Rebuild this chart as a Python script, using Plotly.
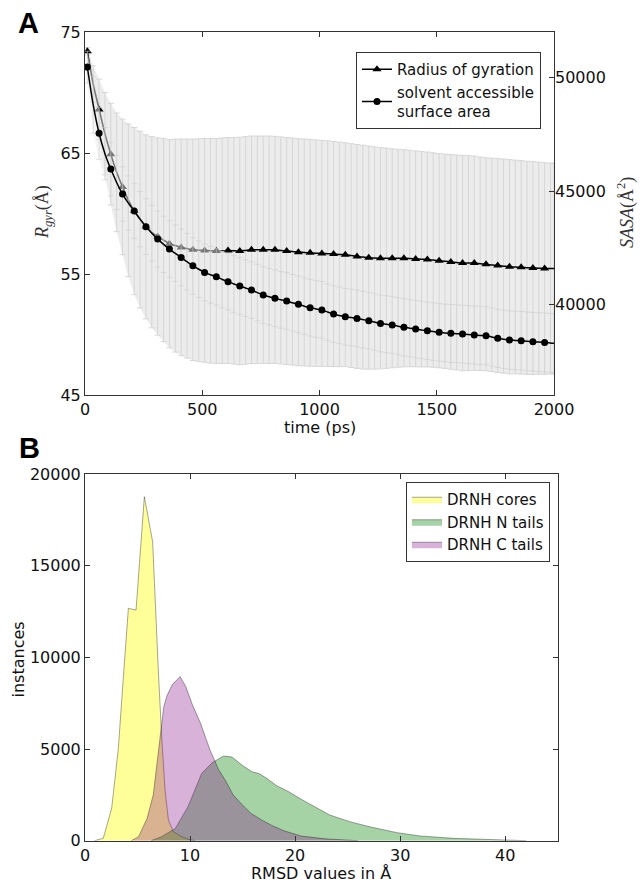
import plotly.graph_objects as go

W, H = 640, 883

# ---------------- Panel A data ----------------
time_ps = [10, 35, 60, 85, 110, 135, 160, 185, 210, 235, 260, 285, 310, 335, 360, 385,
           410, 435, 460, 485, 510, 535, 560, 585, 610, 635, 660, 685, 710, 735, 760, 785,
           810, 835, 860, 885, 910, 935, 960, 985, 1010, 1035, 1060, 1085, 1110, 1135, 1160, 1185,
           1210, 1235, 1260, 1285, 1310, 1335, 1360, 1385, 1410, 1435, 1460, 1485, 1510, 1535, 1560, 1585,
           1610, 1635, 1660, 1685, 1710, 1735, 1760, 1785, 1810, 1835, 1860, 1885, 1910, 1935, 1960, 1985,
           2000]

rg_mean = [73.4, 70.7, 68.6, 66.6, 64.9, 63.4, 62.2, 61.1, 60.2, 59.5, 58.9, 58.45, 58.1, 57.8, 57.5, 57.35,
           57.2, 57.1, 57.0, 56.97, 56.95, 56.92, 56.9, 56.92, 56.95, 56.92, 56.9, 56.95, 57.0, 57.0, 57.0, 57.0,
           57.0, 56.95, 56.9, 56.85, 56.8, 56.78, 56.75, 56.72, 56.7, 56.68, 56.65, 56.62, 56.6, 56.52, 56.45, 56.4,
           56.35, 56.32, 56.3, 56.3, 56.3, 56.3, 56.3, 56.28, 56.25, 56.22, 56.2, 56.15, 56.1, 56.05, 56.0, 55.95,
           55.9, 55.9, 55.9, 55.85, 55.8, 55.75, 55.7, 55.65, 55.6, 55.58, 55.55, 55.52, 55.5, 55.48, 55.45, 55.45,
           55.45]

rg_std = [0.3, 1.5, 2.5, 3.4, 4.2, 4.9, 5.6, 6.3, 6.9, 7.3, 7.6, 7.9, 8.15, 8.4, 8.6, 8.8,
          8.95, 9.05, 9.15, 9.2, 9.25, 9.28, 9.3, 9.32, 9.33, 9.36, 9.4, 9.4, 9.4, 9.4, 9.4, 9.4,
          9.38, 9.38, 9.38, 9.38, 9.38, 9.38, 9.37, 9.36, 9.35, 9.33, 9.3, 9.28, 9.25, 9.25, 9.25, 9.25,
          9.22, 9.18, 9.14, 9.1, 9.05, 9.0, 8.97, 8.94, 8.92, 8.9, 8.88, 8.86, 8.85, 8.85, 8.87, 8.88,
          8.9, 8.88, 8.85, 8.82, 8.8, 8.82, 8.84, 8.85, 8.85, 8.83, 8.82, 8.8, 8.8, 8.77, 8.75, 8.72,
          8.7]

sasa_mean = [50470, 48800, 47550, 46650, 45970, 45380, 44870, 44470, 44120, 43760, 43430, 43140, 42880, 42650, 42440, 42250,
             42070, 41880, 41700, 41550, 41410, 41310, 41220, 41100, 41000, 40900, 40810, 40720, 40630, 40520, 40410, 40340,
             40265, 40200, 40145, 40070, 40000, 39920, 39850, 39800, 39750, 39660, 39570, 39510, 39450, 39420, 39380, 39330,
             39280, 39220, 39160, 39125, 39090, 39035, 38985, 38950, 38910, 38870, 38835, 38800, 38765, 38740, 38720, 38705,
             38690, 38665, 38645, 38630, 38615, 38560, 38500, 38460, 38425, 38410, 38395, 38370, 38350, 38335, 38320, 38300,
             38280]

sasa_std = [700, 1250, 1150, 1150, 1180, 1200, 1200, 1200, 1210, 1220, 1230, 1230, 1240, 1240, 1250, 1250,
            1250, 1250, 1250, 1250, 1250, 1250, 1250, 1250, 1250, 1250, 1250, 1250, 1250, 1250, 1250, 1250,
            1250, 1250, 1250, 1250, 1250, 1250, 1250, 1250, 1250, 1250, 1250, 1250, 1250, 1250, 1250, 1250,
            1250, 1250, 1250, 1255, 1255, 1260, 1260, 1260, 1265, 1265, 1265, 1270, 1270, 1270, 1275, 1275,
            1275, 1280, 1280, 1280, 1285, 1285, 1285, 1290, 1290, 1290, 1290, 1295, 1295, 1295, 1300, 1300,
            1300]

x_ticks_a = [0, 500, 1000, 1500, 2000]
y_ticks_a = [45, 55, 65, 75]
y2_ticks_a = [40000, 45000, 50000]

# ---------------- Panel B data ----------------
core_x = [0.9, 1.74, 2.54, 3.17, 3.65, 4.13, 4.86, 5.65, 6.44, 6.67, 6.98, 7.3, 7.62, 7.94, 8.41, 9.2, 9.84, 10.5]
core_y = [0, 130, 1770, 5000, 8900, 12670, 12580, 18760, 16300, 12940, 9300, 5670, 2760, 1130, 490, 220, 75, 0]

ntail_x = [6.3, 7.3, 8.6, 9.8, 11.1, 12.1, 13.2, 14.0, 15.0, 15.9, 16.6, 17.3, 18.25, 19.4, 20.7, 22.1,
           23.3, 25.2, 27.1, 29.7, 31.9, 35.1, 38.3, 40.5, 42.0]
ntail_y = [0, 220, 670, 1850, 3660, 4250, 4620, 4560, 4100, 3760, 3650, 3400, 3000, 2670, 2220, 1800,
           1400, 1040, 760, 440, 256, 130, 70, 20, 0]

ctail_x = [4.4, 5.1, 5.9, 6.5, 6.85, 7.15, 7.5, 7.8, 8.3, 9.05, 9.6, 10.2, 11.0, 11.9, 12.7, 13.4,
           14.1, 14.9, 15.8, 16.9, 17.9, 19.0, 20.6, 22.9, 26.0]
ctail_y = [0, 220, 1200, 2500, 4200, 5500, 7300, 7900, 8500, 8950, 8400, 7450, 6400, 4950, 3900, 3250,
           2500, 2000, 1490, 1100, 800, 530, 250, 100, 0]

x_ticks_b = [0, 10, 20, 30, 40]
y_ticks_b = [0, 5000, 10000, 15000, 20000]


def px(x):
    return x / W


def py(y):
    return 1 - y / H


fig = go.Figure()

# ---- Panel A: error bands (Rgyr, left axis) ----
rg_hi = [m + s for m, s in zip(rg_mean, rg_std)]
rg_lo = [m - s for m, s in zip(rg_mean, rg_std)]
fig.add_trace(go.Scatter(x=time_ps + time_ps[::-1], y=rg_hi + rg_lo[::-1], fill="toself",
                         fillcolor="#ececec", line=dict(width=0), mode="lines",
                         hoverinfo="skip", showlegend=False, xaxis="x", yaxis="y"))
fig.add_trace(go.Scatter(x=time_ps, y=rg_mean, mode="markers",
                         marker=dict(size=1, color="rgba(0,0,0,0)"),
                         error_y=dict(type="data", array=rg_std, color="#d6d6d6", thickness=1, width=3),
                         hoverinfo="skip", showlegend=False, xaxis="x", yaxis="y"))

n = len(time_ps)
mk_colors = ["black" if (i % 2 == 0 and i < n - 1) else "rgba(0,0,0,0)" for i in range(n)]

fig.add_trace(go.Scatter(x=time_ps, y=rg_mean, mode="lines+markers", name="Radius of gyration",
                         line=dict(color="black", width=1.5, shape="spline", smoothing=0.6),
                         marker=dict(symbol="triangle-up", size=8, color=mk_colors, line=dict(width=0)),
                         legend="legend", xaxis="x", yaxis="y"))

# ---- Panel A: SASA (right axis) ----
sa_hi = [m + s for m, s in zip(sasa_mean, sasa_std)]
sa_lo = [m - s for m, s in zip(sasa_mean, sasa_std)]
fig.add_trace(go.Scatter(x=time_ps + time_ps[::-1], y=sa_hi + sa_lo[::-1], fill="toself",
                         fillcolor="rgba(236,236,236,0.5)", line=dict(width=0), mode="lines",
                         hoverinfo="skip", showlegend=False, xaxis="x", yaxis="y2"))
fig.add_trace(go.Scatter(x=time_ps, y=sasa_mean, mode="markers",
                         marker=dict(size=1, color="rgba(0,0,0,0)"),
                         error_y=dict(type="data", array=sasa_std, color="rgba(205,205,205,0.6)",
                                      thickness=1, width=3),
                         hoverinfo="skip", showlegend=False, xaxis="x", yaxis="y2"))
fig.add_trace(go.Scatter(x=time_ps, y=sasa_mean, mode="lines+markers",
                         name="solvent accessible<br>surface area",
                         line=dict(color="black", width=1.5, shape="spline", smoothing=0.6),
                         marker=dict(symbol="circle", size=7, color=mk_colors, line=dict(width=0)),
                         legend="legend", xaxis="x", yaxis="y2"))

# ---- Panel B: distributions ----
edge = "rgba(0,0,0,0.35)"
fig.add_trace(go.Scatter(x=core_x, y=core_y, fill="toself", mode="lines", name="DRNH cores",
                         fillcolor="rgba(255,255,0,0.4)", line=dict(color=edge, width=1),
                         legend="legend2", xaxis="x2", yaxis="y3"))
fig.add_trace(go.Scatter(x=ntail_x, y=ntail_y, fill="toself", mode="lines", name="DRNH N tails",
                         fillcolor="rgba(0,128,0,0.35)", line=dict(color=edge, width=1),
                         legend="legend2", xaxis="x2", yaxis="y3"))
fig.add_trace(go.Scatter(x=ctail_x, y=ctail_y, fill="toself", mode="lines", name="DRNH C tails",
                         fillcolor="rgba(128,0,128,0.3)", line=dict(color=edge, width=1),
                         legend="legend2", xaxis="x2", yaxis="y3"))

axis_common = dict(showgrid=False, zeroline=False, ticks="inside", ticklen=5, tickwidth=1,
                   tickcolor="#333", linecolor="#333", linewidth=1, automargin=False,
                   tickfont=dict(family="DejaVu Sans", size=16, color="#111"))

fig.update_layout(
    width=W, height=H, autosize=False,
    margin=dict(l=0, r=0, t=0, b=0, pad=0),
    paper_bgcolor="white", plot_bgcolor="white",
    font=dict(family="DejaVu Sans", color="#111"),
    xaxis=dict(domain=[px(85), px(554)], anchor="y", range=[0, 2000], tickvals=x_ticks_a,
               showline=True, mirror="ticks", **axis_common),
    yaxis=dict(domain=[py(395), py(32)], anchor="x", range=[45, 75], tickvals=y_ticks_a,
               showline=True, mirror=True, **axis_common),
    yaxis2=dict(overlaying="y", side="right", anchor="x", range=[36000, 52020], tickvals=y2_ticks_a,
                tickformat="d", showline=False, **axis_common),
    xaxis2=dict(domain=[px(85), px(557.7)], anchor="y3", range=[0, 45], tickvals=x_ticks_b,
                showline=True, mirror="ticks", **axis_common),
    yaxis3=dict(domain=[py(840.7), py(474)], anchor="x2", range=[0, 20000], tickvals=y_ticks_b,
                tickformat="d", showline=True, mirror="ticks", **axis_common),
    legend=dict(x=px(541), xanchor="right", y=py(52), yanchor="top", bgcolor="white",
                bordercolor="#333", borderwidth=1, font=dict(family="DejaVu Sans", size=15, color="#111"),
                tracegroupgap=0, itemwidth=30),
    legend2=dict(x=px(550), xanchor="right", y=py(482), yanchor="top", bgcolor="white",
                 bordercolor="#333", borderwidth=1, font=dict(family="DejaVu Sans", size=15, color="#111"),
                 tracegroupgap=0, itemwidth=30),
)

ann = [
    dict(text="<b>A</b>", x=px(16), y=py(23), xanchor="left", yanchor="middle",
         font=dict(family="Liberation Sans", size=29, color="black")),
    dict(text="<b>B</b>", x=px(17), y=py(448), xanchor="left", yanchor="middle",
         font=dict(family="Liberation Sans", size=29, color="black")),
    dict(text="time (ps)", x=px(319.5), y=py(427), xanchor="center", yanchor="middle",
         font=dict(size=16)),
    dict(text="<i>R</i><sub><i>gyr</i></sub>(Å)", x=px(44), y=py(212), xanchor="center", yanchor="middle",
         textangle=-90, font=dict(family="Liberation Serif", size=18, color="#333")),
    dict(text="<i>SASA</i>(Å<sup>2</sup>)", x=px(626), y=py(213), xanchor="center", yanchor="middle",
         textangle=-90, font=dict(family="Liberation Serif", size=18, color="#333")),
    dict(text="instances", x=px(17.5), y=py(660), xanchor="center", yanchor="middle",
         textangle=-90, font=dict(size=16)),
    dict(text="RMSD values in Å", x=px(321), y=py(873), xanchor="center", yanchor="middle",
         font=dict(size=16)),
]
for a in ann:
    a.update(xref="paper", yref="paper", showarrow=False)
fig.update_layout(annotations=ann)

fig.write_html("out.html", config={"displayModeBar": False},
               post_script="document.body.style.margin='0';document.body.style.overflow='hidden';")
